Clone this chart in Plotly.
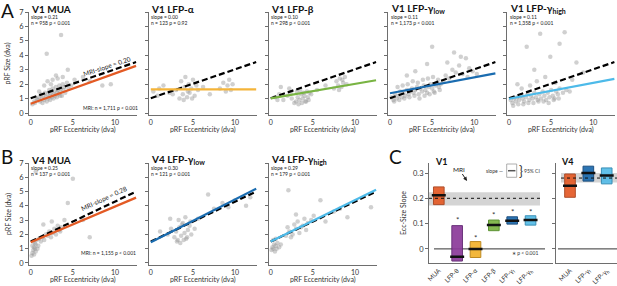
import plotly.graph_objects as go

W, H = 617, 286
FONT = "Lato"


def px(x):
    return x / W


def py(y):
    return 1 - y / H


# ---------------- data: scatter clouds (approximate) ----------------
v1_mua_ecc = [0.2, 0.4, 0.5, 0.7, 0.8, 1.0, 1.1, 1.2, 1.3, 1.5, 1.6, 1.7, 1.8, 2.0, 2.1, 2.2, 2.3, 2.4, 2.5, 2.6,
              2.7, 2.8, 2.9, 3.0, 3.1, 3.2, 3.3, 3.4, 3.5, 3.6, 3.7, 3.8, 3.9, 4.0, 4.1, 4.3, 4.5, 1.4, 1.9, 2.3,
              2.7, 3.1, 3.5, 2.0, 2.6, 3.2, 3.8, 1.0, 1.6, 2.4, 3.0, 4.8, 5.2, 1.9, 3.6, 4.4, 6.2, 7.0, 8.5, 9.5]
v1_mua_size = [0.6, 0.8, 0.7, 1.0, 0.9, 1.1, 0.8, 1.3, 1.0, 1.2, 0.9, 1.4, 1.1, 1.3, 1.0, 1.6, 1.2, 1.4, 1.1, 1.7,
               1.3, 1.5, 1.2, 1.8, 1.4, 1.6, 1.3, 1.9, 1.5, 1.7, 1.2, 2.0, 1.6, 1.8, 1.4, 2.1, 1.7, 0.7, 0.8, 0.9,
               1.0, 1.1, 1.2, 2.2, 2.3, 2.4, 2.5, 1.5, 1.9, 2.0, 2.6, 1.9, 2.3, 4.1, 5.4, 3.0, 2.5, 2.2, 1.9, 2.0]

v1_alpha_ecc = [0.3, 0.8, 1.5, 2.2, 3.0, 3.4, 3.6, 3.8, 4.0, 4.1, 4.3, 4.5, 4.6, 4.8, 5.0, 5.2, 5.4, 3.9, 4.4, 4.9,
                5.6, 6.2, 7.0, 8.2, 8.6, 8.9, 9.1, 9.3, 9.5, 9.7, 1.0, 2.6]
v1_alpha_size = [1.5, 1.2, 1.9, 1.4, 1.6, 1.0, 2.2, 1.3, 1.8, 2.5, 1.1, 2.0, 1.4, 1.7, 2.3, 1.2, 1.9, 0.9, 1.5, 1.0,
                 1.6, 1.8, 1.3, 1.7, 2.1, 1.5, 1.9, 2.3, 1.6, 2.0, 1.7, 1.3]

v1_beta_ecc = [0.5, 1.0, 1.5, 2.0, 2.5, 3.0, 3.2, 3.4, 3.6, 3.8, 4.0, 4.2, 4.4, 4.6, 3.1, 3.5, 3.9, 4.3, 2.8, 3.3,
               3.7, 4.1, 4.5, 2.2, 1.2, 4.8, 5.5, 6.5, 7.5, 7.8, 8.0, 8.2, 8.4, 8.6, 8.8, 9.0, 8.1, 8.5, 0.8, 2.4]
v1_beta_size = [1.1, 1.3, 0.9, 1.2, 1.0, 0.8, 1.1, 0.9, 1.3, 1.0, 1.2, 0.8, 1.1, 1.4, 1.5, 1.6, 1.4, 1.5, 0.7, 0.6,
                0.7, 0.8, 0.9, 1.7, 1.8, 1.3, 1.6, 1.9, 1.7, 2.2, 1.9, 2.4, 1.8, 2.1, 2.5, 2.0, 1.6, 2.3, 0.9, 1.4]

v1_glow_ecc = [0.2, 0.4, 0.6, 0.8, 1.0, 1.2, 1.4, 1.6, 1.8, 2.0, 2.2, 2.4, 2.6, 2.8, 3.0, 3.2, 3.4, 3.6, 3.8, 4.0,
               4.2, 4.4, 4.6, 4.8, 5.0, 5.2, 5.4, 5.6, 5.8, 6.0, 0.5, 1.1, 1.7, 2.3, 2.9, 3.5, 4.1, 4.7, 5.3, 5.9,
               0.9, 1.5, 2.1, 2.7, 3.3, 3.9, 4.5, 5.1, 5.7, 6.3, 6.6, 7.0, 7.4, 7.8, 8.2, 8.6, 9.0, 9.4, 9.8, 6.8,
               7.6, 8.4, 9.2, 3.0, 4.4, 2.0, 5.0, 10.3]
v1_glow_size = [1.1, 0.9, 1.3, 1.0, 1.2, 1.5, 1.1, 1.4, 1.2, 1.6, 1.3, 1.5, 1.7, 1.4, 1.6, 1.8, 1.3, 1.7, 1.5, 1.9,
                1.6, 1.4, 1.8, 2.0, 1.7, 1.5, 1.9, 2.1, 1.8, 2.0, 0.8, 0.9, 1.0, 1.1, 1.2, 1.0, 1.2, 1.3, 1.4, 1.6,
                1.8, 1.9, 2.0, 2.2, 2.1, 2.3, 2.4, 2.5, 2.3, 2.2, 2.6, 2.4, 3.0, 2.8, 3.3, 2.7, 3.8, 3.1, 2.9, 3.5,
                4.2, 3.9, 2.5, 2.9, 3.4, 2.6, 4.6, 2.7]

v1_ghigh_ecc = [0.2, 0.4, 0.6, 0.8, 1.0, 1.2, 1.4, 1.6, 1.8, 2.0, 2.2, 2.4, 2.6, 2.8, 3.0, 3.2, 3.4, 3.6, 3.8, 4.0,
                4.2, 4.4, 4.6, 4.8, 5.0, 5.2, 5.4, 5.6, 5.8, 6.0, 6.4, 6.8, 7.2, 0.5, 1.1, 1.7, 2.3, 2.9, 3.5, 4.1,
                4.7, 5.3, 5.9, 1.5, 2.5, 3.3, 4.3, 5.5, 2.1, 3.7, 6.6, 6.0, 4.9, 8.0, 8.8, 7.5, 1.0, 3.0]
v1_ghigh_size = [0.9, 0.7, 1.0, 0.8, 1.1, 0.9, 1.2, 1.0, 0.8, 1.1, 1.3, 0.9, 1.2, 1.0, 1.4, 1.1, 0.9, 1.3, 1.0, 1.5,
                 1.2, 0.9, 1.4, 1.1, 1.6, 1.2, 1.0, 1.5, 1.3, 1.7, 1.4, 1.6, 1.5, 0.5, 0.6, 0.6, 0.7, 0.7, 0.8, 0.8,
                 0.7, 0.9, 1.0, 1.7, 1.9, 2.2, 2.5, 2.1, 4.6, 5.5, 5.6, 4.8, 3.9, 3.5, 2.8, 2.3, 2.0, 3.0]

v4_mua_ecc = [0.1, 0.2, 0.3, 0.4, 0.5, 0.6, 0.2, 0.4, 0.6, 0.8, 0.3, 0.5, 0.7, 0.9, 1.0, 1.2, 1.4, 1.6, 1.8, 2.0,
              2.2, 2.4, 2.6, 2.8, 3.0, 3.2, 3.4, 3.6, 1.5, 2.5, 3.5, 4.0, 5.0, 6.2, 7.0, 0.6, 4.4]
v4_mua_size = [0.5, 0.7, 0.9, 0.6, 1.0, 0.8, 1.2, 1.1, 1.3, 1.0, 1.5, 1.4, 1.6, 1.2, 1.7, 1.5, 1.8, 1.6, 2.0, 1.9,
               2.2, 1.8, 2.1, 2.4, 2.0, 2.6, 2.3, 2.5, 2.7, 2.9, 2.2, 3.0, 5.9, 3.0, 1.8, 6.4, 4.2]

v4_glow_ecc = [2.0, 2.4, 2.8, 3.0, 3.2, 3.4, 3.6, 3.8, 4.0, 4.2, 4.4, 4.6, 4.8, 3.1, 3.5, 3.9, 4.3, 4.7, 3.3, 3.7,
               4.1, 2.3, 1.1, 5.6, 6.8, 7.5, 8.5, 9.2, 10.0, 11.3, 11.8, 5.2]
v4_glow_size = [2.0, 2.4, 1.8, 2.2, 1.6, 2.5, 1.9, 2.8, 2.1, 1.7, 2.3, 2.6, 2.0, 1.5, 1.4, 1.6, 1.8, 2.9, 3.0, 2.7,
                3.2, 3.1, 2.2, 3.1, 4.8, 3.8, 4.2, 3.9, 4.4, 4.0, 4.6, 2.4]

v4_ghigh_ecc = [0.1, 0.2, 0.3, 0.4, 0.5, 0.6, 0.7, 0.8, 1.0, 1.2, 0.3, 0.6, 1.8, 2.2, 2.6, 3.0, 3.4, 3.8, 4.2, 2.4,
                2.8, 3.2, 3.6, 4.0, 4.4, 2.0, 3.0, 2.1, 5.1, 5.9, 7.5, 9.1, 11.9, 6.5, 4.8, 8.2]
v4_ghigh_size = [0.9, 1.1, 1.0, 1.3, 0.8, 1.2, 1.0, 1.4, 1.1, 1.3, 1.6, 1.7, 1.9, 2.2, 2.0, 2.4, 2.1, 2.6, 2.3, 1.8,
                 2.7, 2.9, 2.5, 3.1, 2.8, 2.5, 3.4, 5.1, 3.3, 4.4, 3.6, 3.2, 3.9, 2.9, 3.0, 3.8]

# ---------------- data: fits ----------------
panel_titles = ["V1 MUA", "V1 LFP-α", "V1 LFP-β", "V1 LFP-γ<sub>low</sub>", "V1 LFP-γ<sub>high</sub>",
                "V4 MUA", "V4 LFP-γ<sub>low</sub>", "V4 LFP-γ<sub>high</sub>"]
fit_slopes = [0.21, 0.00, 0.10, 0.11, 0.11, 0.25, 0.30, 0.29]
fit_intercepts = [0.64, 1.64, 1.02, 1.37, 0.99, 1.45, 1.45, 1.50]
slope_labels = ["0.21", "0.00", "0.10", "0.11", "0.11", "0.25", "0.30", "0.29"]
n_labels = ["958", "123", "298", "1,173", "1,358", "137", "121", "179"]
p_labels = ["p < 0.001", "p = 0.92", "p < 0.001", "p < 0.001", "p < 0.001", "p < 0.001", "p < 0.001", "p < 0.001"]
mri_slope = [0.20, 0.28]
mri_intercept = [1.03, 1.50]
mri_n = ["1,711", "1,155"]
fit_ecc_range = [0.0, 12.5]
x_ticks = [0, 5, 10]
y_ticks = [0, 1, 2, 3, 4, 5, 6, 7]

# ---------------- data: slope summary (panel C) ----------------
v1_box_labels = ["MUA", "LFP-θ", "LFP-α", "LFP-β", "LFP-γ<sub>l</sub>", "LFP-γ<sub>h</sub>"]
v1_box_lo = [0.175, -0.048, -0.034, 0.072, 0.098, 0.094]
v1_box_hi = [0.245, 0.092, 0.029, 0.114, 0.127, 0.131]
v1_box_med = [0.212, -0.031, 0.000, 0.094, 0.111, 0.114]
v1_star_y = [None, 0.121, 0.051, 0.143, 0.154, 0.154]
v4_box_labels = ["MUA", "LFP-γ<sub>l</sub>", "LFP-γ<sub>h</sub>"]
v4_box_lo = [0.204, 0.268, 0.257]
v4_box_hi = [0.296, 0.327, 0.320]
v4_box_med = [0.250, 0.300, 0.290]
mri_ci_v1 = [0.172, 0.224]
mri_ci_v4 = [0.262, 0.300]
slope_ticks = [0, 0.1, 0.2, 0.3]
slope_ticktext = ["0", "0.1", "0.2", "0.3"]

# ---------------- styles ----------------
fit_colors = ["#E35A24", "#F4B43A", "#79B443", "#1A6CB0", "#4DBAE9", "#E35A24", "#1A6CB0", "#4DBAE9"]
v1_box_fill = ["#E45A25", "#8B3A9A", "#F2B12B", "#7BB342", "#1B6AAE", "#55BCE8"]
v1_box_edge = ["#A8401A", "#5E2270", "#B88010", "#4F8A22", "#0E4478", "#2A86B0"]
v4_box_fill = ["#E45A25", "#1B6AAE", "#55BCE8"]
v4_box_edge = ["#A8401A", "#0E4478", "#2A86B0"]

scatter_x = [v1_mua_ecc, v1_alpha_ecc, v1_beta_ecc, v1_glow_ecc, v1_ghigh_ecc, v4_mua_ecc, v4_glow_ecc, v4_ghigh_ecc]
scatter_y = [v1_mua_size, v1_alpha_size, v1_beta_size, v1_glow_size, v1_ghigh_size, v4_mua_size, v4_glow_size,
             v4_ghigh_size]

col_zero = [30.7, 150.8, 270.7, 390.0, 509.0]
xscale = 8.43
xr = [-0.2, 12.6]
rows = [dict(top=12.0, bottom=115.2), dict(top=163.0, bottom=265.1)]
yr = [-0.15, 7.0]

fig = go.Figure()
layout = dict(
    width=W, height=H, margin=dict(l=0, r=0, t=0, b=0, autoexpand=False),
    paper_bgcolor="white", plot_bgcolor="rgba(0,0,0,0)", showlegend=False,
    font=dict(family=FONT, color="#222", size=8), hovermode=False,
)
annotations = []
shapes = []

AX_COLOR = "#6e6e6e"

for i in range(8):
    if i < 5:
        row, col = 0, i
    else:
        row, col = 1, i - 5
    xn = "" if i == 0 else str(i + 1)
    xref, yref = "x" + xn, "y" + xn
    c0 = col_zero[col]
    left = c0 + xr[0] * xscale
    right = c0 + xr[1] * xscale
    r = rows[row]
    layout["xaxis" + xn] = dict(
        domain=[px(left), px(right)], range=xr, anchor=yref, tickvals=x_ticks, automargin=False,
        showline=True, linecolor=AX_COLOR, linewidth=1, ticks="", showgrid=False, zeroline=False,
        tickfont=dict(size=7, color="#333"), fixedrange=True, ticklabeloverflow="allow",
    )
    layout["yaxis" + xn] = dict(
        domain=[py(r["bottom"]), py(r["top"])], range=yr, anchor=xref, tickvals=y_ticks, automargin=False,
        showline=True, linecolor=AX_COLOR, linewidth=1, ticks="outside", ticklen=3, tickcolor=AX_COLOR,
        showticklabels=(col == 0), showgrid=False, zeroline=False, ticklabeloverflow="allow",
        tickfont=dict(size=7.5, color="#333"), fixedrange=True,
    )
    fig.add_trace(go.Scatter(
        x=scatter_x[i], y=scatter_y[i], mode="markers", xaxis=xref, yaxis=yref,
        marker=dict(size=4.5, color="rgba(150,150,150,0.45)", line=dict(width=0)),
    ))
    mi = 0 if i < 5 else 1
    fig.add_trace(go.Scatter(
        x=fit_ecc_range, y=[mri_intercept[mi] + mri_slope[mi] * e for e in fit_ecc_range],
        mode="lines", xaxis=xref, yaxis=yref, line=dict(color="black", width=2.2, dash="6px,3px"),
    ))
    fig.add_trace(go.Scatter(
        x=fit_ecc_range, y=[fit_intercepts[i] + fit_slopes[i] * e for e in fit_ecc_range],
        mode="lines", xaxis=xref, yaxis=yref, line=dict(color=fit_colors[i], width=2.2),
    ))
    # titles
    annotations.append(dict(x=px(c0 - 0.5), y=py(r["top"] - 3.2), xref="paper", yref="paper",
                            text="<b>" + panel_titles[i] + "</b>", showarrow=False, xanchor="left",
                            yanchor="middle", borderpad=0, font=dict(size=10, color="#111", family=FONT)))
    annotations.append(dict(x=px(c0 - 0.5), y=py(r["top"] + 5.0), xref="paper", yref="paper",
                            text="slope = " + slope_labels[i], showarrow=False, xanchor="left",
                            yanchor="middle", borderpad=0, font=dict(size=5, color="#222", family=FONT)))
    annotations.append(dict(x=px(c0 - 0.5), y=py(r["top"] + 11.0), xref="paper", yref="paper",
                            text="n = " + n_labels[i] + " " + p_labels[i], showarrow=False, xanchor="left",
                            yanchor="middle", borderpad=0, font=dict(size=5, color="#222", family=FONT)))
    # x axis title
    annotations.append(dict(x=px(c0 + 52), y=py(r["bottom"] + 14.5), xref="paper", yref="paper",
                            text="pRF Eccentricity (dva)", showarrow=False, xanchor="center",
                            yanchor="middle", font=dict(size=7, color="#333", family=FONT)))
    if col == 0:
        annotations.append(dict(x=px(8), y=py((r["top"] + r["bottom"]) / 2), xref="paper", yref="paper",
                                text="pRF Size (dva)", showarrow=False, textangle=-90, xanchor="center",
                                yanchor="middle", font=dict(size=7, color="#333", family=FONT)))

# MRI texts
annotations.append(dict(x=px(106.5), y=py(66), xref="paper", yref="paper", text="MRI-slope = 0.20",
                        showarrow=False, textangle=-18.5, xanchor="center", yanchor="middle",
                        font=dict(size=6.5, color="#222", family=FONT)))
annotations.append(dict(x=px(104), y=py(198), xref="paper", yref="paper", text="MRI-slope = 0.28",
                        showarrow=False, textangle=-25, xanchor="center", yanchor="middle",
                        font=dict(size=6.5, color="#222", family=FONT)))
annotations.append(dict(x=px(140), y=py(108), xref="paper", yref="paper",
                        text="MRI: n = " + mri_n[0] + " p < 0.001", showarrow=False, xanchor="right",
                        font=dict(size=5, color="#222", family=FONT)))
annotations.append(dict(x=px(138), y=py(258), xref="paper", yref="paper",
                        text="MRI: n = " + mri_n[1] + " p < 0.001", showarrow=False, xanchor="right",
                        font=dict(size=5, color="#222", family=FONT)))

# panel letters
for letter, lx, ly in [("A", 7, 10), ("B", 7, 156), ("C", 395, 156)]:
    annotations.append(dict(x=px(lx), y=py(ly), xref="paper", yref="paper", text=letter, showarrow=False,
                            xanchor="center", yanchor="middle", font=dict(size=19, color="#111", family=FONT)))

# ---------------- panel C ----------------
cs = 18.35
c_top, c_bot = 163.0, 263.3
c_yr = [0.3 - (c_bot - 173) / 253, 0.3 + (173 - c_top) / 253]
v1_c0 = 438.8
v4_c0 = 570.0
v1_left, v1_right = 429.0, 553.0
v4_left, v4_right = 556.0, 617.0

for name, c0, left, right, labels, showlab in [("9", v1_c0, v1_left, v1_right, v1_box_labels, True),
                                                ("10", v4_c0, v4_left, v4_right, v4_box_labels, False)]:
    layout["xaxis" + name] = dict(
        domain=[px(left), px(right)], range=[(left - c0) / cs, (right - c0) / cs], anchor="y" + name,
        tickvals=list(range(len(labels))), ticktext=labels, tickangle=-45, showline=True, automargin=False,
        linecolor=AX_COLOR, linewidth=1, ticks="", showgrid=False, zeroline=False, ticklabeloverflow="allow",
        tickfont=dict(size=6.5, color="#333"), fixedrange=True,
    )
    layout["yaxis" + name] = dict(
        domain=[py(c_bot), py(c_top)], range=c_yr, anchor="x" + name, tickvals=slope_ticks, automargin=False,
        ticktext=slope_ticktext, showticklabels=showlab, showline=True, linecolor=AX_COLOR, linewidth=1,
        ticks="outside", ticklen=3, tickcolor=AX_COLOR, showgrid=False, zeroline=False,
        ticklabeloverflow="allow", tickfont=dict(size=7.5, color="#333"), fixedrange=True,
    )


def cx(pix, c0):
    return (pix - c0) / cs


# MRI bands + dotted lines + zero lines
shapes.append(dict(type="rect", xref="x9", yref="y9", x0=cx(429, v1_c0), x1=cx(540, v1_c0),
                   y0=mri_ci_v1[0], y1=mri_ci_v1[1], fillcolor="#d4d4d4", line=dict(width=0), layer="below"))
shapes.append(dict(type="line", xref="x9", yref="y9", x0=cx(429, v1_c0), x1=cx(540, v1_c0),
                   y0=mri_slope[0], y1=mri_slope[0], line=dict(color="#111", width=1, dash="dot")))
shapes.append(dict(type="line", xref="x9", yref="y9", x0=cx(434, v1_c0), x1=cx(545, v1_c0),
                   y0=0, y1=0, line=dict(color="#333", width=1), layer="below"))
shapes.append(dict(type="rect", xref="x10", yref="y10", x0=cx(561, v4_c0), x1=cx(617, v4_c0),
                   y0=mri_ci_v4[0], y1=mri_ci_v4[1], fillcolor="#d4d4d4", line=dict(width=0), layer="below"))
shapes.append(dict(type="line", xref="x10", yref="y10", x0=cx(561, v4_c0), x1=cx(617, v4_c0),
                   y0=mri_slope[1], y1=mri_slope[1], line=dict(color="#111", width=1, dash="dot")))
shapes.append(dict(type="line", xref="x10", yref="y10", x0=cx(558, v4_c0), x1=cx(617, v4_c0),
                   y0=0, y1=0, line=dict(color="#333", width=1), layer="below"))

for name, lo, hi, med, fill, edge in [("9", v1_box_lo, v1_box_hi, v1_box_med, v1_box_fill, v1_box_edge),
                                      ("10", v4_box_lo, v4_box_hi, v4_box_med, v4_box_fill, v4_box_edge)]:
    n = len(lo)
    fig.add_trace(go.Bar(
        x=list(range(n)), base=lo, y=[h - l for h, l in zip(hi, lo)], width=0.58,
        marker=dict(color=fill, line=dict(color=edge, width=1), opacity=0.92),
        xaxis="x" + name, yaxis="y" + name,
    ))
    fig.add_trace(go.Scatter(
        x=list(range(n)), y=med, mode="markers", xaxis="x" + name, yaxis="y" + name,
        marker=dict(symbol="line-ew", size=10, line=dict(color="#111", width=2.5)),
    ))

for k, sy in enumerate(v1_star_y):
    if sy is None:
        continue
    annotations.append(dict(x=k, y=sy, xref="x9", yref="y9", text="*", showarrow=False, yshift=-2,
                            font=dict(size=8, color="#333", family=FONT)))

# C texts
annotations.append(dict(x=px(403), y=py(213), xref="paper", yref="paper", text="Ecc-Size Slope",
                        showarrow=False, textangle=-90, xanchor="center", yanchor="middle",
                        font=dict(size=7, color="#333", family=FONT)))
annotations.append(dict(x=px(433), y=py(161), xref="paper", yref="paper", text="<b>V1</b>", showarrow=False,
                        xanchor="left", font=dict(size=9, color="#111", family=FONT)))
annotations.append(dict(x=px(559), y=py(161), xref="paper", yref="paper", text="<b>V4</b>", showarrow=False,
                        xanchor="left", font=dict(size=9, color="#111", family=FONT)))
annotations.append(dict(x=cx(467, v1_c0), y=0.3 - (181 - 173) / 253, xref="x9", yref="y9", text="MRI",
                        showarrow=True, arrowhead=2, arrowsize=0.8, arrowwidth=1, arrowcolor="#222",
                        ax=-8, ay=-12, font=dict(size=6.5, color="#222", family=FONT)))
annotations.append(dict(x=px(540), y=py(257.7), xref="paper", yref="paper", text="∗ p < 0.001",
                        showarrow=False, xanchor="right", font=dict(size=5, color="#333", family=FONT)))
# legend inset
shapes.append(dict(type="rect", xref="paper", yref="paper", x0=px(506.7), x1=px(516.7), y0=py(177.3),
                   y1=py(164), fillcolor="white", line=dict(color="#999", width=0.8)))
shapes.append(dict(type="line", xref="paper", yref="paper", x0=px(508), x1=px(515.4), y0=py(170.7),
                   y1=py(170.7), line=dict(color="#555", width=1.5)))
annotations.append(dict(x=px(505), y=py(170.7), xref="paper", yref="paper", text="slope —", showarrow=False,
                        xanchor="right", font=dict(size=5, color="#333", family=FONT)))
annotations.append(dict(x=px(517), y=py(170.7), xref="paper", yref="paper", text="}", showarrow=False,
                        xanchor="left", font=dict(size=13, color="#333", family=FONT)))
annotations.append(dict(x=px(522), y=py(170.7), xref="paper", yref="paper", text="95% CI", showarrow=False,
                        xanchor="left", font=dict(size=5, color="#333", family=FONT)))

layout["annotations"] = annotations
layout["shapes"] = shapes
layout["bargap"] = 0
fig.update_layout(**layout)
fig.write_html("out.html", config={"displayModeBar": False, "staticPlot": True},
               post_script="document.body.style.margin='0';document.body.style.padding='0';"
                           "document.body.style.overflow='hidden';")
